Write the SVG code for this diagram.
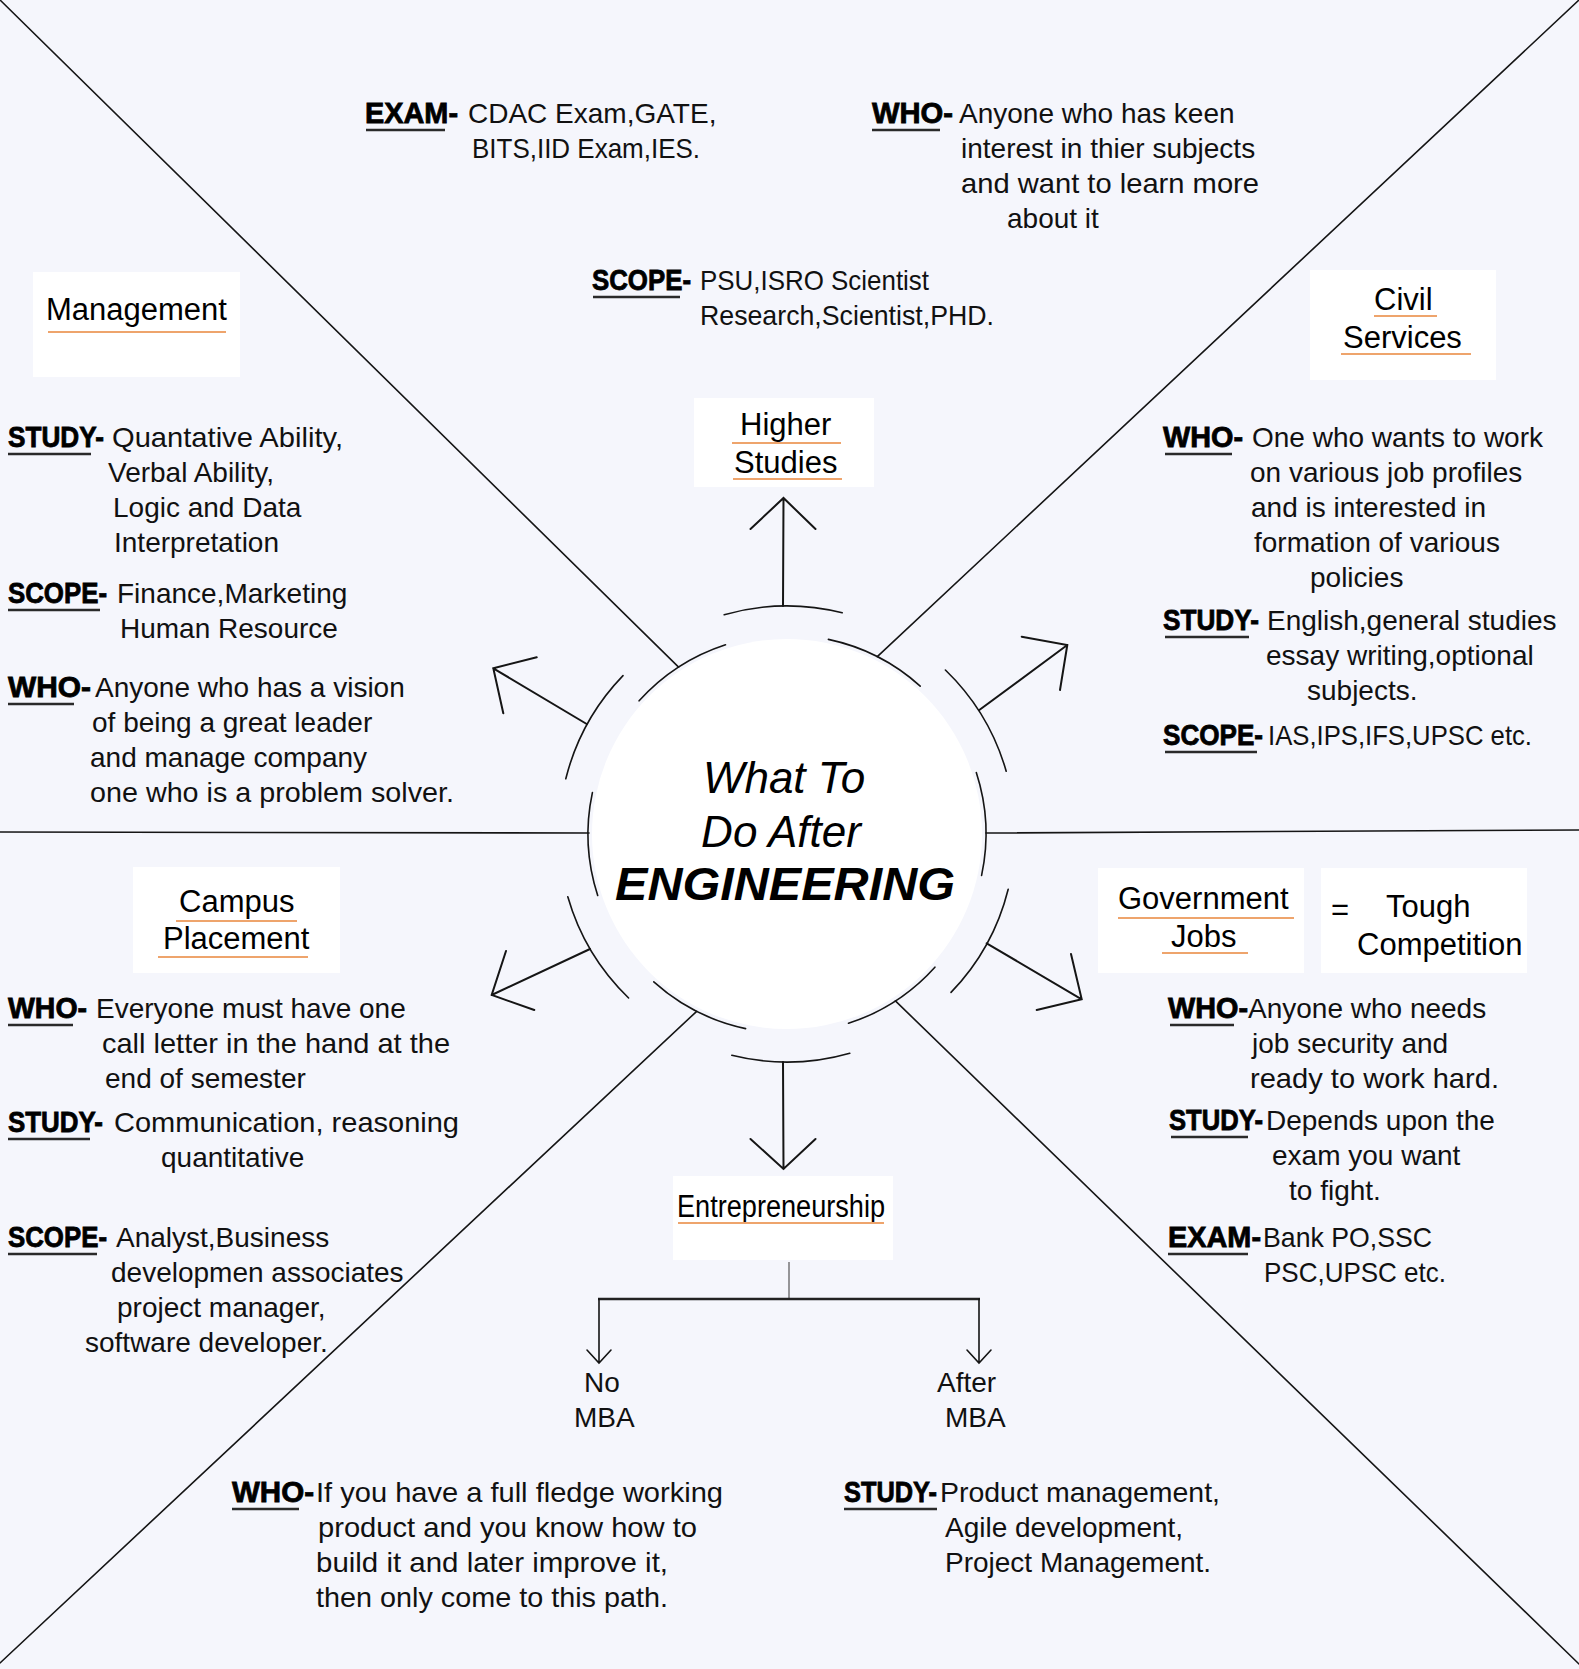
<svg xmlns="http://www.w3.org/2000/svg" width="1579" height="1669" viewBox="0 0 1579 1669">
<style>
.ln{stroke:#151515;stroke-width:1.6;fill:none;stroke-linecap:round}
.ar{stroke:#151515;stroke-width:2;fill:none;stroke-linecap:round;stroke-linejoin:miter}
.box{fill:#ffffff}
.bt{font-family:"Liberation Sans",Arial,sans-serif;font-size:31px;fill:#000}
.ou{stroke:#eea46c;stroke-width:2.2}
.tx{font-family:"Liberation Sans",Arial,sans-serif;font-size:28px;fill:#111}
.lb{font-family:"Liberation Sans",Arial,sans-serif;font-size:29px;font-weight:bold;fill:#000;stroke:#000;stroke-width:0.8}
.ku{stroke:#2a2a2a;stroke-width:2.4}
.ct{font-family:"Liberation Sans",Arial,sans-serif;fill:#000;text-anchor:middle}
</style>
<rect x="0" y="0" width="1579" height="1669" fill="#f5f6fc"/>

<g id="connectors">
  <!-- dividing lines -->
  <line class="ln" x1="0" y1="0" x2="678.6" y2="667.1"/>
  <line class="ln" x1="1579" y1="0" x2="877.3" y2="656.7"/>
  <line class="ln" x1="0" y1="832" x2="589" y2="833"/>
  <line class="ln" x1="986" y1="833" x2="1579" y2="830"/>
  <line class="ln" x1="895.4" y1="1000.9" x2="1579" y2="1664"/>
  <line class="ln" x1="696.7" y1="1011.3" x2="0" y2="1663"/>
  <!-- inner arcs -->
  <path class="ln" d="M639.1 700.8 A199 199 0 0 1 725.5 644.7"/>
  <path class="ln" d="M828.4 639.4 A199 199 0 0 1 920.2 686.1"/>
  <path class="ln" d="M976.3 772.5 A199 199 0 0 1 981.6 875.4"/>
  <path class="ln" d="M934.9 967.2 A199 199 0 0 1 848.5 1023.3"/>
  <path class="ln" d="M745.6 1028.6 A199 199 0 0 1 653.8 981.9"/>
  <path class="ln" d="M597.7 895.5 A199 199 0 0 1 592.4 792.6"/>
  <!-- outer arcs -->
  <path class="ln" d="M724.2 614.8 A228 228 0 0 1 842.2 612.8"/>
  <path class="ln" d="M945.4 670 A228 228 0 0 1 1006.2 771.2"/>
  <path class="ln" d="M1008.2 889.2 A228 228 0 0 1 951 992.4"/>
  <path class="ln" d="M849.8 1053.2 A228 228 0 0 1 731.8 1055.2"/>
  <path class="ln" d="M628.6 998 A228 228 0 0 1 567.8 896.8"/>
  <path class="ln" d="M565.8 778.8 A228 228 0 0 1 623 675.6"/>
  <!-- arrows from hub -->
  <path class="ar" d="M783 606 L783.5 498 M750.5 529 L783.5 498 L815.5 529"/>
  <path class="ar" d="M783 1062 L783.5 1169 M750.5 1139 L783.5 1169 L815.5 1139"/>
  <path class="ar" d="M586.7 724 L493.3 668.3 M536.7 657.3 L493.3 668.3 L503.3 713.3"/>
  <path class="ar" d="M590 949 L491.7 995 M506 951 L491.7 995 L534.3 1010"/>
  <path class="ar" d="M979.3 710 L1067.3 645 M1021.7 636.7 L1067.3 645 L1060 690"/>
  <path class="ar" d="M986.7 943.3 L1081.7 999.3 M1071 954 L1081.7 999.3 L1036.7 1010"/>
  <!-- entrepreneurship branches -->
  <line x1="789" y1="1262" x2="789" y2="1299" stroke="#555" stroke-width="1.2"/>
  <line x1="598" y1="1299" x2="980" y2="1299" stroke="#222" stroke-width="2.6"/>
  <path class="ln" d="M599 1299 L599 1363 M587 1350 L599 1363 L611 1350"/>
  <path class="ln" d="M979 1299 L979 1363 M967 1350 L979 1363 L991 1350"/>
</g>

<g id="hub">
  <circle cx="787" cy="834" r="195" fill="#ffffff"/>
  <text class="ct" x="784" y="793" font-size="44" font-style="italic">What To</text>
  <text class="ct" x="781" y="847" font-size="44" font-style="italic">Do After</text>
  <text class="ct" x="785" y="900" font-size="46" font-style="italic" font-weight="bold" textLength="340" lengthAdjust="spacingAndGlyphs">ENGINEERING</text>
</g>

<g id="node-management">
  <rect class="box" x="33" y="272" width="207" height="105"/>
  <text class="bt" x="46" y="320">Management</text>
  <line class="ou" x1="48" y1="332" x2="226" y2="332"/>
</g>

<g id="node-higher-studies">
  <rect class="box" x="694" y="398" width="180" height="89"/>
  <text class="bt" x="740" y="435">Higher</text>
  <line class="ou" x1="732" y1="443" x2="841" y2="443"/>
  <text class="bt" x="734" y="473">Studies</text>
  <line class="ou" x1="733" y1="479" x2="842" y2="479"/>
</g>

<g id="node-civil-services">
  <rect class="box" x="1310" y="270" width="186" height="110"/>
  <text class="bt" x="1374" y="310">Civil</text>
  <line class="ou" x1="1374" y1="316" x2="1437" y2="316"/>
  <text class="bt" x="1343" y="348">Services</text>
  <line class="ou" x1="1341" y1="354" x2="1471" y2="354"/>
</g>

<g id="node-campus-placement">
  <rect class="box" x="133" y="867" width="207" height="106"/>
  <text class="bt" x="179" y="912">Campus</text>
  <line class="ou" x1="176" y1="921" x2="297" y2="921"/>
  <text class="bt" x="163" y="949">Placement</text>
  <line class="ou" x1="158" y1="957" x2="308" y2="957"/>
</g>

<g id="node-government-jobs">
  <rect class="box" x="1098" y="868" width="206" height="105"/>
  <text class="bt" x="1118" y="909">Government</text>
  <line class="ou" x1="1118" y1="918" x2="1294" y2="918"/>
  <text class="bt" x="1171" y="947">Jobs</text>
  <line class="ou" x1="1162" y1="953" x2="1248" y2="953"/>
</g>

<g id="node-tough-competition">
  <rect class="box" x="1321" y="868" width="206" height="105"/>
  <text class="bt" x="1331" y="920">=</text>
  <text class="bt" x="1386" y="917">Tough</text>
  <text class="bt" x="1357" y="955">Competition</text>
</g>

<g id="node-entrepreneurship">
  <rect class="box" x="673" y="1176" width="220" height="84"/>
  <text class="bt" x="677" y="1217" font-size="28" textLength="208" lengthAdjust="spacingAndGlyphs">Entrepreneurship</text>
  <line class="ou" x1="678" y1="1223" x2="884" y2="1223"/>
</g>

<g id="node-no-mba">
  <text class="tx" x="584" y="1392">No</text>
  <text class="tx" x="574" y="1427">MBA</text>
</g>

<g id="node-after-mba">
  <text class="tx" x="937" y="1392">After</text>
  <text class="tx" x="945" y="1427">MBA</text>
</g>

<g id="info-higher-studies">
  <text class="lb" x="365" y="123" textLength="93" lengthAdjust="spacingAndGlyphs">EXAM-</text>
  <line class="ku" x1="366" y1="130" x2="445" y2="130"/>
  <text class="tx" x="468" y="123">CDAC Exam,GATE,</text>
  <text class="tx" x="472" y="158" textLength="228" lengthAdjust="spacingAndGlyphs">BITS,IID Exam,IES.</text>
  <text class="lb" x="592" y="290" textLength="99" lengthAdjust="spacingAndGlyphs">SCOPE-</text>
  <line class="ku" x1="593" y1="297" x2="680" y2="297"/>
  <text class="tx" x="700" y="290" textLength="229" lengthAdjust="spacingAndGlyphs">PSU,ISRO Scientist</text>
  <text class="tx" x="700" y="325" textLength="294" lengthAdjust="spacingAndGlyphs">Research,Scientist,PHD.</text>
  <text class="lb" x="872" y="123" textLength="81" lengthAdjust="spacingAndGlyphs">WHO-</text>
  <line class="ku" x1="872" y1="130" x2="940" y2="130"/>
  <text class="tx" x="959" y="123">Anyone who has keen</text>
  <text class="tx" x="961" y="158">interest in thier subjects</text>
  <text class="tx" x="961" y="193" textLength="298" lengthAdjust="spacingAndGlyphs">and want to learn more</text>
  <text class="tx" x="1007" y="228">about it</text>
</g>

<g id="info-management">
  <text class="lb" x="8" y="447" textLength="96" lengthAdjust="spacingAndGlyphs">STUDY-</text>
  <line class="ku" x1="8" y1="454" x2="91" y2="454"/>
  <text class="tx" x="112" y="447" textLength="231" lengthAdjust="spacingAndGlyphs">Quantative Ability,</text>
  <text class="tx" x="108" y="482">Verbal Ability,</text>
  <text class="tx" x="113" y="517">Logic and Data</text>
  <text class="tx" x="114" y="552">Interpretation</text>
  <text class="lb" x="8" y="603" textLength="99" lengthAdjust="spacingAndGlyphs">SCOPE-</text>
  <line class="ku" x1="8" y1="610" x2="100" y2="610"/>
  <text class="tx" x="117" y="603">Finance,Marketing</text>
  <text class="tx" x="120" y="638">Human Resource</text>
  <text class="lb" x="8" y="697" textLength="83" lengthAdjust="spacingAndGlyphs">WHO-</text>
  <line class="ku" x1="8" y1="704" x2="74" y2="704"/>
  <text class="tx" x="95" y="697">Anyone who has a vision</text>
  <text class="tx" x="92" y="732">of being a great leader</text>
  <text class="tx" x="90" y="767">and manage company</text>
  <text class="tx" x="90" y="802" textLength="364" lengthAdjust="spacingAndGlyphs">one who is a problem solver.</text>
</g>

<g id="info-civil-services">
  <text class="lb" x="1163" y="447" textLength="80" lengthAdjust="spacingAndGlyphs">WHO-</text>
  <line class="ku" x1="1165" y1="454" x2="1232" y2="454"/>
  <text class="tx" x="1252" y="447">One who wants to work</text>
  <text class="tx" x="1250" y="482">on various job profiles</text>
  <text class="tx" x="1251" y="517">and is interested in</text>
  <text class="tx" x="1254" y="552">formation of various</text>
  <text class="tx" x="1310" y="587">policies</text>
  <text class="lb" x="1163" y="630" textLength="96" lengthAdjust="spacingAndGlyphs">STUDY-</text>
  <line class="ku" x1="1165" y1="637" x2="1249" y2="637"/>
  <text class="tx" x="1267" y="630">English,general studies</text>
  <text class="tx" x="1266" y="665">essay writing,optional</text>
  <text class="tx" x="1307" y="700">subjects.</text>
  <text class="lb" x="1163" y="745" textLength="100" lengthAdjust="spacingAndGlyphs">SCOPE-</text>
  <line class="ku" x1="1165" y1="752" x2="1257" y2="752"/>
  <text class="tx" x="1268" y="745" textLength="264" lengthAdjust="spacingAndGlyphs">IAS,IPS,IFS,UPSC etc.</text>
</g>

<g id="info-campus-placement">
  <text class="lb" x="8" y="1018" textLength="79" lengthAdjust="spacingAndGlyphs">WHO-</text>
  <line class="ku" x1="8" y1="1025" x2="73" y2="1025"/>
  <text class="tx" x="96" y="1018">Everyone must have one</text>
  <text class="tx" x="102" y="1053" textLength="348" lengthAdjust="spacingAndGlyphs">call letter in the hand at the</text>
  <text class="tx" x="105" y="1088">end of semester</text>
  <text class="lb" x="8" y="1132" textLength="95" lengthAdjust="spacingAndGlyphs">STUDY-</text>
  <line class="ku" x1="8" y1="1139" x2="90" y2="1139"/>
  <text class="tx" x="114" y="1132" textLength="345" lengthAdjust="spacingAndGlyphs">Communication, reasoning</text>
  <text class="tx" x="161" y="1167">quantitative</text>
  <text class="lb" x="8" y="1247" textLength="99" lengthAdjust="spacingAndGlyphs">SCOPE-</text>
  <line class="ku" x1="8" y1="1254" x2="97" y2="1254"/>
  <text class="tx" x="116" y="1247">Analyst,Business</text>
  <text class="tx" x="111" y="1282">developmen associates</text>
  <text class="tx" x="117" y="1317">project manager,</text>
  <text class="tx" x="85" y="1352">software developer.</text>
</g>

<g id="info-government-jobs">
  <text class="lb" x="1168" y="1018" textLength="80" lengthAdjust="spacingAndGlyphs">WHO-</text>
  <line class="ku" x1="1170" y1="1025" x2="1234" y2="1025"/>
  <text class="tx" x="1248" y="1018">Anyone who needs</text>
  <text class="tx" x="1252" y="1053">job security and</text>
  <text class="tx" x="1250" y="1088" textLength="249" lengthAdjust="spacingAndGlyphs">ready to work hard.</text>
  <text class="lb" x="1169" y="1130" textLength="94" lengthAdjust="spacingAndGlyphs">STUDY-</text>
  <line class="ku" x1="1171" y1="1137" x2="1248" y2="1137"/>
  <text class="tx" x="1266" y="1130">Depends upon the</text>
  <text class="tx" x="1272" y="1165">exam you want</text>
  <text class="tx" x="1289" y="1200">to fight.</text>
  <text class="lb" x="1168" y="1247" textLength="93" lengthAdjust="spacingAndGlyphs">EXAM-</text>
  <line class="ku" x1="1168" y1="1254" x2="1248" y2="1254"/>
  <text class="tx" x="1263" y="1247" textLength="169" lengthAdjust="spacingAndGlyphs">Bank PO,SSC</text>
  <text class="tx" x="1264" y="1282" textLength="182" lengthAdjust="spacingAndGlyphs">PSC,UPSC etc.</text>
</g>

<g id="info-no-mba">
  <text class="lb" x="232" y="1502" textLength="82" lengthAdjust="spacingAndGlyphs">WHO-</text>
  <line class="ku" x1="232" y1="1509" x2="299" y2="1509"/>
  <text class="tx" x="316" y="1502" textLength="407" lengthAdjust="spacingAndGlyphs">If you have a full fledge working</text>
  <text class="tx" x="318" y="1537" textLength="379" lengthAdjust="spacingAndGlyphs">product and you know how to</text>
  <text class="tx" x="316" y="1572" textLength="352" lengthAdjust="spacingAndGlyphs">build it and later improve it,</text>
  <text class="tx" x="316" y="1607" textLength="352" lengthAdjust="spacingAndGlyphs">then only come to this path.</text>
</g>

<g id="info-after-mba">
  <text class="lb" x="844" y="1502" textLength="93" lengthAdjust="spacingAndGlyphs">STUDY-</text>
  <line class="ku" x1="844" y1="1509" x2="937" y2="1509"/>
  <text class="tx" x="940" y="1502" textLength="280" lengthAdjust="spacingAndGlyphs">Product management,</text>
  <text class="tx" x="945" y="1537">Agile development,</text>
  <text class="tx" x="945" y="1572">Project Management.</text>
</g>
</svg>
